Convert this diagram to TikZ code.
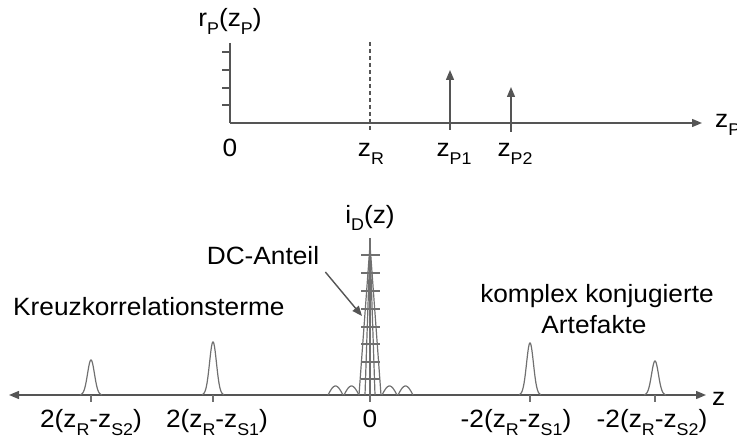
\documentclass[tikz,border=0pt]{standalone}
\usepackage{fontspec}
\setmainfont{Liberation Sans}[FakeStretch=1.05]
\usetikzlibrary{arrows.meta}
\newcommand\lowidx[1]{\raisebox{-8pt}{\fontsize{17}{17}\selectfont #1}}
\definecolor{linegray}{HTML}{555555}
\definecolor{peakgray}{HTML}{707070}
\begin{document}
\begin{tikzpicture}[x=1pt,y=-1pt,
  every node/.style={inner sep=0pt, font=\fontsize{25}{29}\selectfont, text=black},
  axisline/.style={draw=linegray, line width=1.4pt},
  tipend/.style={-{Triangle[length=10pt,width=8pt]}},
  curve/.style={draw=peakgray, line width=1.2pt}]
\useasboundingbox (0,0) rectangle (737,441);
% ---------- top diagram ----------
\coordinate (yo) at (230,123);
\coordinate (ytop) at (230,43);
\coordinate (xend) at (702,123);
\draw[axisline] (ytop) -- (yo);
\draw[axisline,tipend] (yo) -- (xend);
\foreach \y in {52,70,88,105} \draw[axisline] (222,\y) -- (230,\y);
\draw[axisline, dash pattern=on 4pt off 3pt] (370,42) -- (370,130);
\coordinate (p1b) at (450,130); \coordinate (p1t) at (450,70);
\coordinate (p2b) at (511,132); \coordinate (p2t) at (511,87);
\draw[axisline,tipend] (p1b) -- (p1t);
\draw[axisline,tipend] (p2b) -- (p2t);
\node[anchor=base] (rp) at (230,27) {r\lowidx{P}(z\lowidx{P})};
\node[anchor=base] (l0) at (230,157) {0};
\node[anchor=base] (lzr) at (371,157) {z\lowidx{R}};
\node[anchor=base] (lzp1) at (454,157) {z\lowidx{P1}};
\node[anchor=base] (lzp2) at (515,157) {z\lowidx{P2}};
\node[anchor=base west] (lzp) at (715,128) {z\lowidx{P}};
% ---------- bottom diagram ----------
\coordinate (bl) at (9,395);
\coordinate (br) at (706,395);
\draw[axisline, {Triangle[length=10pt,width=8pt]}-{Triangle[length=10pt,width=8pt]}] (bl) -- (br);
\foreach \c/\h in {91/35, 213/53, 530/52, 655/34} {
  \draw[curve] plot[domain=-11:11, samples=61, smooth] ({\c+\x},{395-\h*exp(-((\x)^2)/24)});
  \draw[curve] (\c,395) -- (\c,402);
}
% central DC peak
\draw[curve] (359,395) -- (370,245) -- (381,395);
\draw[curve] (365,395) -- (370,245) -- (375,395);
\draw[curve] (370,238) -- (370,402);
\foreach \y in {255,273,291,309,327,344,362,379} \draw[curve] (361,\y) -- (380,\y);
\foreach \a in {328,344,382,398}
  \draw[curve] plot[domain=0:15, samples=31, smooth] ({\a+\x},{395-9*sin(\x*12)});
\node[anchor=base] (iD) at (370,223) {i\lowidx{D}(z)};
\node[anchor=base] (dc) at (263,265) {DC-Anteil};
\coordinate (dctip) at (362,316);
\draw[axisline,tipend] ([xshift=6pt,yshift=-7pt]dc.base east) -- (dctip);
\node[anchor=base west] (kk) at (13,315) {Kreuzkorrelationsterme};
\node[anchor=base] (kom) at (597,302) {komplex konjugierte};
\node[anchor=base] (art) at (594,333) {Artefakte};
\node[anchor=base] (b1) at (91,427) {2(z\lowidx{R}-z\lowidx{S2})};
\node[anchor=base] (b2) at (217,427) {2(z\lowidx{R}-z\lowidx{S1})};
\node[anchor=base] (b0) at (370,427) {0};
\node[anchor=base] (b3) at (516,427) {-2(z\lowidx{R}-z\lowidx{S1})};
\node[anchor=base] (b4) at (652,427) {-2(z\lowidx{R}-z\lowidx{S2})};
\node[anchor=base west] (zl) at (712,405) {z};
\end{tikzpicture}
\end{document}
